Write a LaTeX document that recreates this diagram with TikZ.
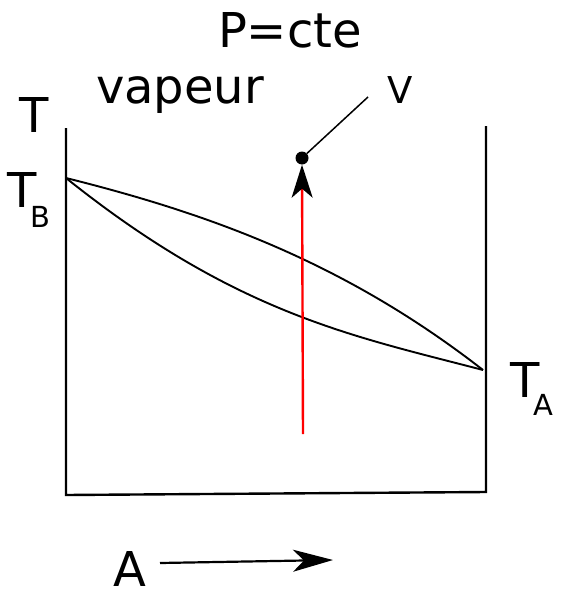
\documentclass[tikz,border=0pt]{standalone}
\usepackage{fontspec}
\setmainfont{DejaVu Sans}
\usepackage{tikz}
\usetikzlibrary{arrows.meta, positioning}
\usepackage{xcolor}
\definecolor{mixred}{HTML}{FF0000}

\newcommand{\lblsz}{\fontsize{48}{52}\selectfont}
\newcommand{\subsz}{\fontsize{29}{31}\selectfont}

\begin{document}
\begin{tikzpicture}[
    x=1pt, y=-1pt,
    axis/.style  = {line width=2.4pt, black},
    curve/.style = {line width=1.9pt, black},
    lbl/.style   = {inner sep=0pt, anchor=base, font=\lblsz},
    mix/.style   = {line width=2.4pt, color=mixred, -{Stealth[length=33pt, width=21pt, inset=9pt, black]}},
    comp/.style  = {line width=2.2pt, -{Stealth[length=40pt, width=22pt, inset=11pt]}},
  ]
    \useasboundingbox (0,0) rectangle (560,589);

    %% ── Frame ───────────────────────────────────────────────────────────────
    \coordinate (ytop)  at (66, 128);
    \coordinate (orig)  at (66, 495);
    \coordinate (xend)  at (486, 492);
    \coordinate (rtop)  at (486, 126);
    \draw[axis] (ytop) -- (orig) -- (xend) -- (rtop);

    %% ── Liquidus / vapour curves between the two boiling points ─────────────
    \coordinate (tB) at (66, 178);
    \coordinate (tA) at (483, 370);
    \draw[curve] (tB) .. controls (206, 213) and (343, 261) .. (tA);
    \draw[curve] (tB) .. controls (236, 314) and (353, 336) .. (tA);

    %% ── Heating path, ends at the vapour point ──────────────────────────────
    \node[circle, fill=black, inner sep=0pt, minimum size=13pt] (vdot) at (302, 158) {};
    \coordinate (mixbot) at (303, 434);
    \coordinate (vtail)  at (368, 97);
    \draw[mix] (mixbot) -- (vdot.south);
    \draw[line width=1.5pt] (vdot) -- (vtail);

    %% ── Composition arrow ───────────────────────────────────────────────────
    \node[lbl] (acomp) at (130, 586) {A};
    \coordinate (arrL) at (160, 563);
    \coordinate (arrR) at (333, 560);
    \draw[comp] (arrL) -- (arrR);

    %% ── Labels ──────────────────────────────────────────────────────────────
    \node[lbl] (press) at (290, 47)  {P=cte};
    \node[lbl] (vap)   at (180, 103) {vapeur};
    \node[lbl, font=\fontsize{37}{40}\selectfont] (vlab) at (400, 103) {V};
    \node[lbl] (taxis) at (34, 132)  {T};
    \node[lbl, anchor=base west] (tBlab) at (7, 207)
          {T\kern-6pt\raisebox{-20pt}{\subsz B}};
    \node[lbl, anchor=base west] (tAlab) at (510, 397)
          {T\kern-6pt\raisebox{-18pt}{\subsz A}};

  \end{tikzpicture}
\end{document}
